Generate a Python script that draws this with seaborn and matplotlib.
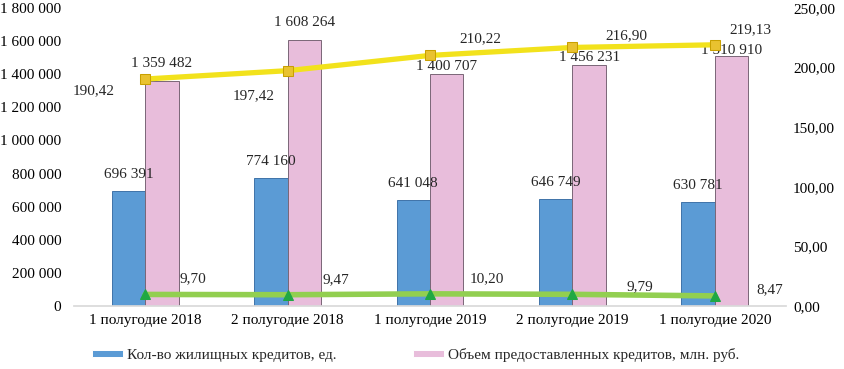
import matplotlib
matplotlib.use("Agg")
import matplotlib.pyplot as plt
import matplotlib.ticker as mticker
import numpy as np
import pandas as pd
import seaborn as sns

# Data
periods = ['1 полугодие 2018', '2 полугодие 2018', '1 полугодие 2019',
           '2 полугодие 2019', '1 полугодие 2020']
loans_count = [696391, 774160, 641048, 646749, 630781]
loans_volume = [1359482, 1608264, 1400707, 1456231, 1510910]
avg_loan = [190.42, 197.42, 210.22, 216.90, 219.13]
rate = [9.70, 9.47, 10.20, 9.79, 8.47]
series_names = ['Кол-во жилищных кредитов, ед.',
                'Объем предоставленных кредитов, млн. руб.']

# label offsets in pixels (dx, dy) - placement only
volume_dy = [17, 17, 8, 7, 5]
avg_off = [(-52, -12), (-34, -25), (50, 17), (54, 12), (36, 15)]
rate_off = [(48, 16), (48, 15), (57, 15), (67, 8), (55, 6)]

sns.set_theme(style='white')
plt.rcParams['font.family'] = ['Liberation Serif', 'DejaVu Serif']

df = pd.DataFrame({
    'period': periods * 2,
    'value': loans_count + loans_volume,
    'series': [series_names[0]] * 5 + [series_names[1]] * 5,
})

fig = plt.figure(figsize=(8.45, 3.69), dpi=100)
ax = fig.add_axes([74 / 845, 1 - 306 / 369, 712 / 845, 298 / 369])

blue, pink = '#5b9bd5', '#e8bddb'
sns.barplot(data=df, x='period', y='value', hue='series', palette=[blue, pink],
            saturation=1, width=0.47, ax=ax, linewidth=0.7)
for bar, ec in zip(ax.patches, ['#3f73a8'] * 5 + ['#7a6677'] * 5):
    bar.set_edgecolor(ec)
handles, labels = ax.get_legend_handles_labels()
ax.get_legend().remove()

ax.set_ylim(0, 1800000)
ax.set_xlim(-0.5, 4.5)
ax.set_xlabel('')
ax.set_ylabel('')
ax.yaxis.set_major_locator(mticker.MultipleLocator(200000))
ax.yaxis.set_major_formatter(mticker.FuncFormatter(lambda v, p: f'{int(v):,}'.replace(',', ' ')))
ax.tick_params(axis='both', length=0, labelsize=11, colors='black')
ax.tick_params(axis='y', pad=9)
ax.tick_params(axis='x', pad=6)
for s in ['top', 'left', 'right']:
    ax.spines[s].set_visible(False)
ax.spines['bottom'].set_color('#d9d9d9')

# bar value labels
for i, v in enumerate(loans_count):
    ax.annotate(f'{v:,}'.replace(',', ' '), (i - 0.1175, v), xytext=(0, 16),
                textcoords='offset pixels', ha='center', va='center', fontsize=11)
for i, v in enumerate(loans_volume):
    ax.annotate(f'{v:,}'.replace(',', ' '), (i + 0.1175, v), xytext=(0, volume_dy[i]),
                textcoords='offset pixels', ha='center', va='center', fontsize=11)

# secondary axis lines
ax2 = ax.twinx()
xpos = np.arange(len(periods))
sns.lineplot(x=xpos, y=avg_loan, ax=ax2, color='#f2e21c', lw=3.8, marker='s',
             markersize=7, markerfacecolor='#e9c230', markeredgecolor='#c9a000')
sns.lineplot(x=xpos, y=rate, ax=ax2, color='#92cf50', lw=4, marker='^',
             markersize=7, markerfacecolor='#1fa843', markeredgecolor='#1fa843')
ax2.set_ylim(0, 250)
ax.set_xlim(-0.5, 4.5)
ax2.yaxis.set_major_locator(mticker.MultipleLocator(50))
ax2.yaxis.set_major_formatter(mticker.FuncFormatter(lambda v, p: f'{v:.2f}'.replace('.', ',')))
ax2.tick_params(axis='y', length=0, labelsize=11, pad=5, colors='black')
for s in ['top', 'left', 'right', 'bottom']:
    ax2.spines[s].set_visible(False)

for i, v in enumerate(avg_loan):
    ax2.annotate(f'{v:.2f}'.replace('.', ','), (i, v), xytext=avg_off[i],
                 textcoords='offset pixels', ha='center', va='center', fontsize=11)
for i, v in enumerate(rate):
    ax2.annotate(f'{v:.2f}'.replace('.', ','), (i, v), xytext=rate_off[i],
                 textcoords='offset pixels', ha='center', va='center', fontsize=11)

fig.legend(handles, labels, loc='center left', bbox_to_anchor=(86 / 845, 1 - 355 / 369),
           ncol=2, frameon=False, fontsize=11, handlelength=2.0, handleheight=0.4,
           handletextpad=0.3, columnspacing=5.0, borderaxespad=0)

fig.savefig('out.png', dpi=100)
